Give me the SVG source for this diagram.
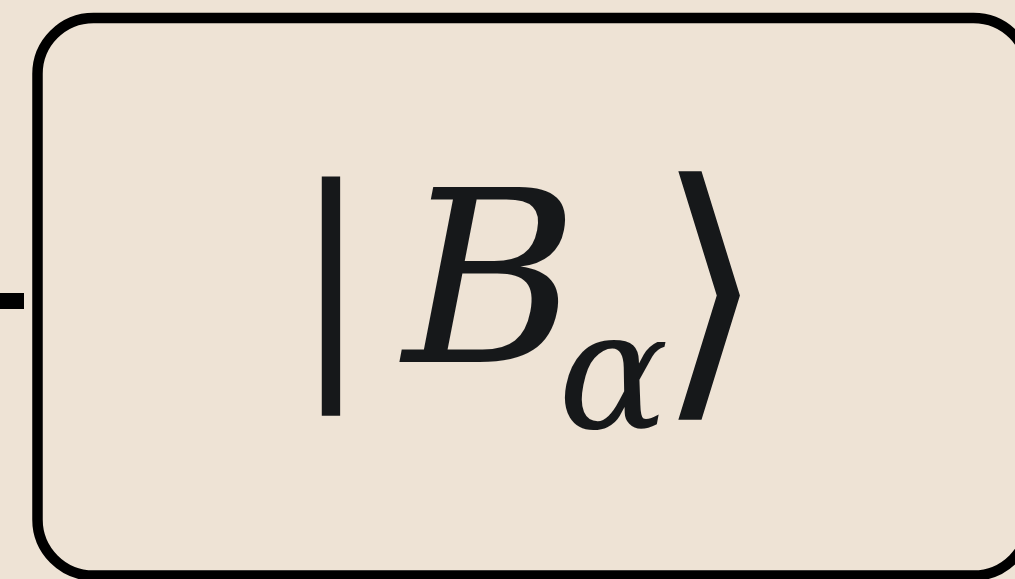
<svg xmlns="http://www.w3.org/2000/svg" width="1015" height="579" viewBox="0 0 1015 579">
<style>
.bg{fill:#EEE3D5}
.node{fill:#EEE3D5;stroke:#000;stroke-width:10.5}
.edge{stroke:#000;stroke-width:16;fill:none}
.m{fill:#16181A}
</style>
<rect class="bg" x="0" y="0" width="1015" height="579"/>
<g id="connectors">
<line class="edge" x1="0" y1="301" x2="24" y2="301"/>
</g>
<g id="node-B-alpha">
<rect class="node" x="37.5" y="18" width="992" height="557.5" rx="56" ry="56"/>
<text class="m" x="302" y="359" font-family="Liberation Serif" font-size="263" font-weight="bold">|</text>
<text class="m" x="403" y="362" font-family="DejaVu Serif" font-size="239" font-style="italic">B</text>
<text class="m" x="558" y="428" font-family="DejaVu Serif" font-size="164" font-style="italic">α</text>
<text class="m" x="656" y="383" font-family="DejaVu Sans" font-size="279">⟩</text>
</g>
</svg>
